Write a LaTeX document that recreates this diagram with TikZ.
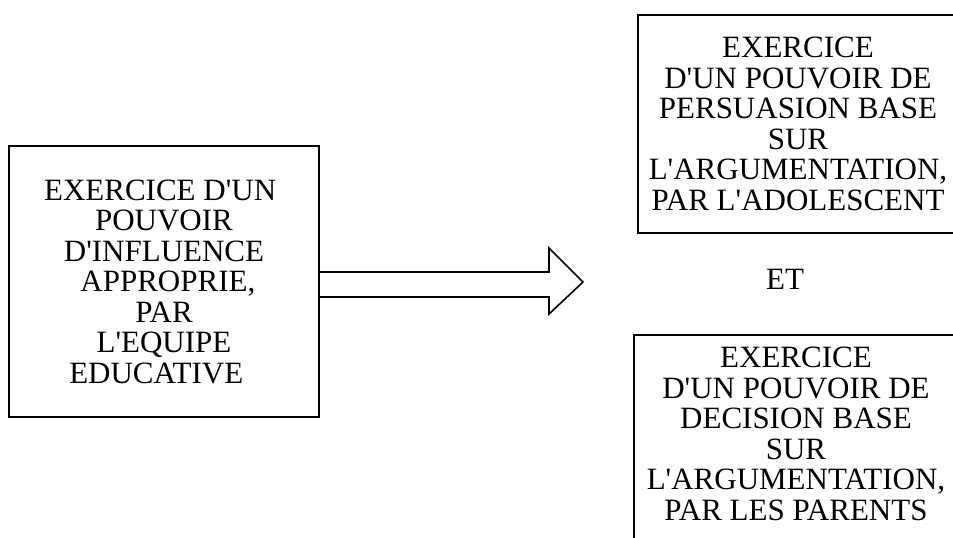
\documentclass[tikz,border=0pt]{standalone}
\usepackage{fontspec}
\setmainfont{Liberation Serif}
\usepackage{tikz}
\newcommand\boxfont{\fontsize{15.5pt}{15.25pt}\selectfont}
\newcommand\ap{\textquotesingle}
\tikzset{
    frame-box/.style = {draw=black, fill=white, line width=1pt, rectangle, align=center, inner xsep=0pt, inner ysep=6pt, font=\boxfont},
    plain-label/.style = {inner sep=0pt, font=\boxfont},
    block-arrow/.style = {draw=black, line width=0.8pt},
}

\begin{document}
\begin{tikzpicture}[x=0.5pt, y=-0.5pt]
\useasboundingbox (0,0) rectangle (953,537);
\clip (0,0) rectangle (953,537);
\node [frame-box, minimum width=155pt, minimum height=135.5pt] (influence) at (164,281.5) {EXERCICE D\ap UN\hspace*{0.25em}\\POUVOIR\hspace*{0.25em}\\D\ap INFLUENCE\hspace*{0.25em}\\\hspace*{0.25em}APPROPRIE,\\PAR\hspace*{0.25em}\\L\ap EQUIPE\hspace*{0.25em}\\EDUCATIVE\hspace*{0.5em}};
\node [frame-box, minimum width=160pt, minimum height=109pt, anchor=north west] (persuasion) at (637,14) {EXERCICE\\D\ap UN POUVOIR DE\\PERSUASION BASE\\SUR\\L\ap ARGUMENTATION,\\PAR L\ap ADOLESCENT};
\node [plain-label, anchor=base] (et) at (785,289) {ET};
\node [frame-box, minimum width=162pt, anchor=north west, text depth=40pt] (decision) at (633,334) {EXERCICE\\D\ap UN POUVOIR DE\\DECISION BASE\\SUR\\L\ap ARGUMENTATION,\\PAR LES PARENTS};
% double-line arrow
\coordinate (tip) at (583,282);
\draw [block-arrow] (influence.east |- 0,272) -- (549,272) -- (549,248) -- (tip) -- (549,314) -- (549,297) -- (influence.east |- 0,297);
\end{tikzpicture}
\end{document}
